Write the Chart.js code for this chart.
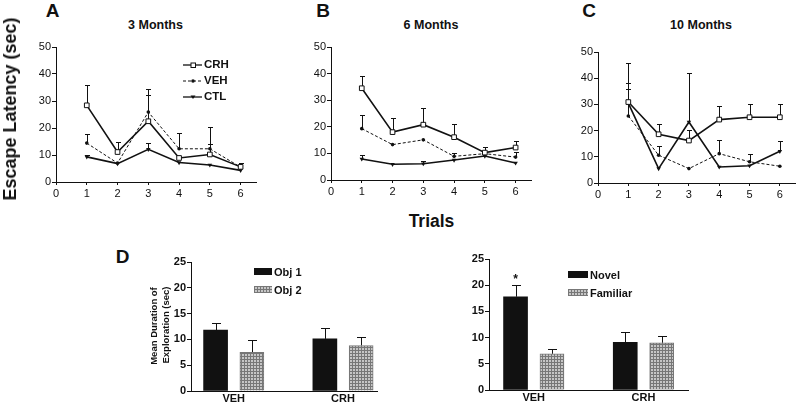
<!DOCTYPE html>
<html>
<head>
<meta charset="utf-8">
<script src="https://cdn.jsdelivr.net/npm/chart.js@4.4.0/dist/chart.umd.min.js"></script>
<style>
html,body{margin:0;padding:0;background:#fff;}
#fig{position:relative;width:800px;height:405px;overflow:hidden;font-family:"Liberation Sans",Arial,sans-serif;color:#111;}
#fig canvas{position:absolute;}
.t{position:absolute;white-space:nowrap;font-weight:bold;line-height:1;transform:translate(-50%,-50%);}
.lg{position:absolute;white-space:nowrap;font-weight:bold;line-height:1;transform:translateY(-50%);}
.sw{position:absolute;}
.hatch{background:linear-gradient(90deg,#777 1px,transparent 1px) 0 0/3px 3px,linear-gradient(#777 1px,transparent 1px) 0 0/3px 3px,#c6c6c6;}
</style>
</head>
<body>
<div id="fig"></div>
<script>
// ---- data ----
const trials = [1, 2, 3, 4, 5, 6];
const trialTicks = [0, 1, 2, 3, 4, 5, 6];
const latencyTicks = [0, 10, 20, 30, 40, 50];
const seriesNames = ['CRH', 'VEH', 'CTL'];

// 3 months
const crh3 = [28.4, 11.1, 22.5, 8.9, 10.2, 5.6];
const crh3Err = [35.8, 15.0, 32.1, null, 14.2, 7.2];
const veh3 = [14.4, 7.0, 25.9, 12.3, 12.3, 5.5];
const veh3Err = [17.9, null, 34.6, 18.3, 20.4, null];
const ctl3 = [9.3, 6.8, 12.1, 7.2, 6.3, 4.3];
const ctl3Err = [10.1, null, 14.3, null, null, null];

// 6 months
const crh6 = [34.5, 18.0, 20.8, 16.1, 10.3, 12.2];
const crh6Err = [39.2, 23.3, 26.9, 21.1, 12.3, 14.8];
const veh6 = [19.3, 13.3, 15.1, 8.9, 9.9, 8.6];
const veh6Err = [24.3, null, null, 10.3, null, 10.5];
const ctl6 = [7.9, 5.9, 6.1, 7.5, 9.0, 6.4];
const ctl6Err = [9.3, null, 7.3, null, null, null];

// 10 months
const crh10 = [30.9, 18.6, 16.2, 24.2, 25.1, 25.1];
const crh10Err = [45.8, 22.6, 20.1, 29.3, 30.3, 30.3];
const veh10 = [25.6, 10.6, 5.5, 11.2, 8.1, 6.4];
const veh10Err = [36.0, 14.1, null, 16.5, 11.1, null];
const ctl10 = [30.5, 5.5, 23.3, 6.1, 6.6, 12.1];
const ctl10Err = [38.2, null, 42.0, null, null, 16.0];

// D: object exploration
const groups = ['VEH', 'CRH'];
const durationTicks = [0, 5, 10, 15, 20, 25];
const obj1 = [11.8, 10.1];
const obj1Err = [13.2, 12.2];
const obj2 = [7.5, 8.8];
const obj2Err = [9.9, 10.5];
const novel = [17.8, 9.1];
const novelErr = [20.0, 11.1];
const familiar = [6.9, 9.0];
const familiarErr = [7.9, 10.3];

// ---- helpers ----
const FONT = '"Liberation Sans", Arial, sans-serif';
const INK = '#111';
const fig = document.getElementById('fig');

function text(str, x, y, size, rot){
  const d = document.createElement('div');
  d.className = 't';
  d.textContent = str;
  d.style.left = x + 'px';
  d.style.top = y + 'px';
  d.style.fontSize = size + 'px';
  if(rot) d.style.transform = 'translate(-50%,-50%) rotate(' + rot + 'deg)';
  fig.appendChild(d);
}

function legendText(str, x, y, size){
  const d = document.createElement('div');
  d.className = 'lg';
  d.textContent = str;
  d.style.left = x + 'px';
  d.style.top = y + 'px';
  d.style.fontSize = size + 'px';
  fig.appendChild(d);
}

function swatch(x, y, w, h, cls, bg){
  const d = document.createElement('div');
  d.className = 'sw ' + (cls || '');
  d.style.left = x + 'px'; d.style.top = y + 'px';
  d.style.width = w + 'px'; d.style.height = h + 'px';
  if(bg) d.style.background = bg;
  fig.appendChild(d);
}

// canvas whose chart area lands on area (page coords)
function makeCanvas(area, yW, xH, padT, padR){
  const c = document.createElement('canvas');
  const w = area.R - area.L + yW + padR;
  const h = area.B - area.T + padT + xH;
  c.width = w; c.height = h;
  c.style.width = w + 'px'; c.style.height = h + 'px';
  c.style.left = (area.L - yW) + 'px';
  c.style.top = (area.T - padT) + 'px';
  fig.appendChild(c);
  return c;
}

// upward-only error bars
const errorBars = {
  id: 'errorBars',
  beforeDatasetsDraw(chart, args, opts){
    const ctx = chart.ctx;
    const ys = chart.scales.y;
    chart.data.datasets.forEach((ds, i) => {
      if(!ds.errTop) return;
      const meta = chart.getDatasetMeta(i);
      ctx.save();
      ctx.strokeStyle = INK;
      ctx.lineWidth = 1;
      meta.data.forEach((el, j) => {
        const top = ds.errTop[j];
        if(top == null) return;
        const x = Math.round(el.x) + 0.5;
        const yt = Math.round(ys.getPixelForValue(top)) + 0.5;
        ctx.beginPath();
        ctx.moveTo(x, el.y);
        ctx.lineTo(x, yt);
        ctx.moveTo(x - opts.cap, yt);
        ctx.lineTo(x + opts.cap, yt);
        ctx.stroke();
      });
      ctx.restore();
    });
  }
};

const seriesStyle = {
  CRH: {borderWidth: 1.6, borderDash: [], pointStyle: 'rect', pointRadius: 3.3, pointBackgroundColor: '#fff', pointBorderWidth: 1, rotation: 0},
  VEH: {borderWidth: 1, borderDash: [3, 2], pointStyle: 'circle', pointRadius: 1.8, pointBackgroundColor: INK, pointBorderWidth: 0, rotation: 0},
  CTL: {borderWidth: 1.6, borderDash: [], pointStyle: 'triangle', pointRadius: 2.6, pointBackgroundColor: INK, pointBorderWidth: 0, rotation: 180}
};

function lineChart(area, values, errs, padR){
  const c = makeCanvas(area, 40, 22, 8, padR);
  const datasets = seriesNames.map((name, k) => Object.assign({
    label: name,
    data: trials.map((t, i) => ({x: t, y: values[k][i]})),
    errTop: errs[k],
    borderColor: INK,
    pointBorderColor: INK,
    tension: 0,
    fill: false
  }, seriesStyle[name]));
  return new Chart(c, {
    type: 'line',
    data: {datasets},
    plugins: [errorBars],
    options: {
      responsive: false, animation: false,
      layout: {padding: {top: 8, right: padR, left: 0, bottom: 0}},
      plugins: {legend: {display: false}, tooltip: {enabled: false}, errorBars: {cap: 2.5}},
      scales: {
        x: {
          type: 'linear', min: 0, max: 6.5,
          afterFit: s => { s.height = 22; },
          afterBuildTicks: s => { s.ticks = trialTicks.map(v => ({value: v})); },
          grid: {drawOnChartArea: false, drawTicks: true, tickLength: 3, color: INK},
          border: {display: true, color: INK, width: 1},
          ticks: {color: INK, font: {family: FONT, size: 11}, padding: 2, maxRotation: 0}
        },
        y: {
          min: 0, max: 50,
          afterFit: s => { s.width = 40; },
          afterBuildTicks: s => { s.ticks = latencyTicks.map(v => ({value: v})); },
          grid: {drawOnChartArea: false, drawTicks: true, tickLength: 4, color: INK},
          border: {display: true, color: INK, width: 1},
          ticks: {color: INK, font: {family: FONT, size: 11}, padding: 1}
        }
      }
    }
  });
}

function hatchPattern(){
  const p = document.createElement('canvas');
  p.width = 3; p.height = 3;
  const g = p.getContext('2d');
  g.fillStyle = '#c6c6c6'; g.fillRect(0, 0, 3, 3);
  g.fillStyle = '#777'; g.fillRect(0, 0, 3, 1); g.fillRect(0, 0, 1, 3);
  return g.createPattern(p, 'repeat');
}

function barChart(area, xmin, xmax, sets, errs){
  const c = makeCanvas(area, 40, 16, 8, 4);
  const off = 0.166;
  const fills = [INK, hatchPattern()];
  const datasets = sets.map((vals, k) => ({
    data: groups.map((g, i) => ({x: i + 1 + (k ? off : -off), y: vals[i]})),
    errTop: errs[k],
    backgroundColor: fills[k],
    borderColor: k ? '#777' : INK,
    borderWidth: k ? 1 : 0,
    barThickness: 24,
    grouped: false
  }));
  return new Chart(c, {
    type: 'bar',
    data: {datasets},
    plugins: [errorBars],
    options: {
      responsive: false, animation: false,
      layout: {padding: {top: 8, right: 4, left: 0, bottom: 0}},
      plugins: {legend: {display: false}, tooltip: {enabled: false}, errorBars: {cap: 4.5}},
      scales: {
        x: {
          type: 'linear', min: xmin, max: xmax, offset: false,
          afterFit: s => { s.height = 16; },
          afterBuildTicks: s => { s.ticks = groups.map((g, i) => ({value: i + 1})); },
          grid: {display: true, offset: false, drawOnChartArea: false, drawTicks: false, color: INK},
          border: {display: true, color: INK, width: 1},
          ticks: {color: INK, font: {family: FONT, size: 11, weight: 'bold'}, padding: 1,
                  callback: v => groups[v - 1]}
        },
        y: {
          min: 0, max: 25,
          afterFit: s => { s.width = 40; },
          afterBuildTicks: s => { s.ticks = durationTicks.map(v => ({value: v})); },
          grid: {drawOnChartArea: false, drawTicks: true, tickLength: 4, color: INK},
          border: {display: true, color: INK, width: 1},
          ticks: {color: INK, font: {family: FONT, size: 11, weight: 'bold'}, padding: 1}
        }
      }
    }
  });
}

// ---- panels A-C ----
lineChart({L: 56, R: 257, T: 47, B: 182}, [crh3, veh3, ctl3], [crh3Err, veh3Err, ctl3Err], 4);
lineChart({L: 331, R: 532, T: 47, B: 180}, [crh6, veh6, ctl6], [crh6Err, veh6Err, ctl6Err], 4);
lineChart({L: 598, R: 798, T: 52, B: 183}, [crh10, veh10, ctl10], [crh10Err, veh10Err, ctl10Err], 2);

// ---- panel D ----
barChart({L: 191, R: 377, T: 262, B: 391}, 0.609, 2.311, [obj1, obj2], [obj1Err, obj2Err]);
barChart({L: 489, R: 688, T: 259, B: 390}, 0.592, 2.406, [novel, familiar], [novelErr, familiarErr]);

// ---- labels ----
text('A', 52.5, 10, 19);
text('B', 323, 10, 19);
text('C', 589, 10, 19);
text('D', 122.5, 256, 19);
text('3 Months', 155.5, 25, 12.5);
text('6 Months', 431, 25, 12.5);
text('10 Months', 701, 25, 12.5);
text('Escape Latency (sec)', 10, 108.5, 18, -90);
text('Trials', 431.5, 221.5, 17.5);
text('Mean Duration of', 154, 326, 9.5, -90);
text('Exploration (sec)', 166, 325, 9.5, -90);
text('*', 515.5, 279, 12);

// legend A (line symbols)
const legendSvg = document.createElementNS('http://www.w3.org/2000/svg', 'svg');
legendSvg.setAttribute('width', '22');
legendSvg.setAttribute('height', '44');
legendSvg.style.position = 'absolute';
legendSvg.style.left = '182px';
legendSvg.style.top = '59px';
legendSvg.innerHTML =
  '<line x1="1" y1="6" x2="20" y2="6" stroke="#111" stroke-width="1.3"/>' +
  '<rect x="9" y="4" width="4.5" height="4.5" fill="#fff" stroke="#111" stroke-width="1"/>' +
  '<line x1="1" y1="22" x2="20" y2="22" stroke="#111" stroke-width="1" stroke-dasharray="3,2"/>' +
  '<circle cx="11" cy="22" r="1.8" fill="#111"/>' +
  '<line x1="1" y1="38" x2="20" y2="38" stroke="#111" stroke-width="1.3"/>' +
  '<polygon points="8.5,36.5 13.5,36.5 11,40" fill="#111"/>';
fig.appendChild(legendSvg);
legendText('CRH', 204, 65, 11.5);
legendText('VEH', 204, 81, 11.5);
legendText('CTL', 204, 97, 11.5);

// legend D
swatch(254, 268, 18, 7, '', INK);
swatch(254, 286, 18, 7, 'hatch');
legendText('Obj 1', 274, 271.5, 11);
legendText('Obj 2', 274, 289.5, 11);
swatch(568, 271, 20, 7, '', INK);
swatch(568, 289, 20, 7, 'hatch');
legendText('Novel', 590, 274.5, 11);
legendText('Familiar', 590, 292.5, 11);
</script>
</body>
</html>
